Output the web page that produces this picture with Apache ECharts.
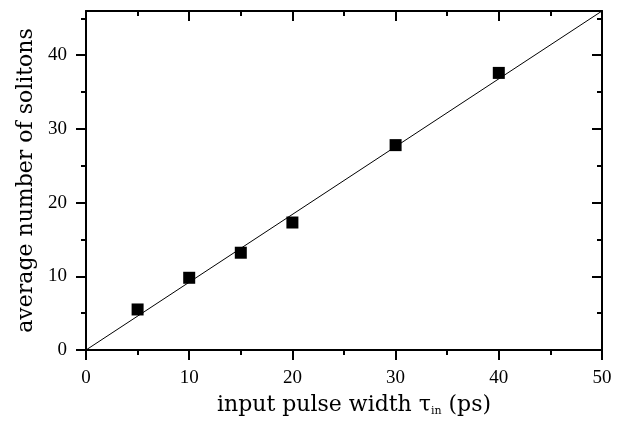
<!DOCTYPE html>
<html>
<head>
<meta charset="utf-8">
<script src="https://cdn.jsdelivr.net/npm/echarts@6/dist/echarts.min.js"></script>
<style>
  html, body { margin: 0; padding: 0; background: #ffffff; }
  #chart { width: 628px; height: 430px; }
</style>
</head>
<body>
<div id="chart"></div>
<script>
// measured points
const pulseWidth = [5, 10, 15, 20, 30, 40];
const solitons = [5.5, 9.8, 13.2, 17.3, 27.8, 37.6];
// straight-line fit through the origin
const fitX = [0, 50];
const fitY = [0, 46];
// tick positions
const xMajor = [0, 10, 20, 30, 40, 50];
const xMinor = [5, 15, 25, 35, 45];
const yMajor = [0, 10, 20, 30, 40];
const yMinor = [5, 15, 25, 35, 45];

const font = "Liberation Serif";
const titleFont = "DejaVu Serif";
const black = "#000";

// helper: one axis layer (labels/ticks per side)
function xLayer(pos, ticks, len, inside, labels, line) {
  return {
    type: "value", position: pos, min: 0, max: 50, interval: 5,
    axisLine: { show: line, onZero: false, lineStyle: { color: black, width: 2 } },
    axisTick: { show: true, inside: inside, length: len, customValues: ticks,
      lineStyle: { color: black, width: 2 } },
    axisLabel: { show: labels, customValues: xMajor, margin: 19,
      fontFamily: font, fontSize: 19, color: black },
    splitLine: { show: false },
  };
}
function yLayer(pos, ticks, len, inside, labels, line) {
  return {
    type: "value", position: pos, min: 0, max: 46, interval: 5,
    axisLine: { show: line, onZero: false, lineStyle: { color: black, width: 2 } },
    axisTick: { show: true, inside: inside, length: len, customValues: ticks,
      lineStyle: { color: black, width: 2 } },
    axisLabel: { show: labels, customValues: yMajor, margin: 19,
      fontFamily: font, fontSize: 19, color: black },
    splitLine: { show: false },
  };
}

const xAxes = [
  xLayer("bottom", xMajor, 10, false, true, true),
  xLayer("bottom", xMinor, 5, false, false, false),
  xLayer("top", xMajor, 10, true, false, true),
  xLayer("top", xMinor, 5, true, false, false),
];
xAxes[0].name = "{t|input pulse width τ}{s|in}{t| (ps)}";
xAxes[0].nameLocation = "middle";
xAxes[0].nameGap = 44;
xAxes[0].nameTextStyle = {
  padding: [0, 0, 0, 20],
  rich: {
    t: { fontFamily: titleFont, fontSize: 22, color: black },
    s: { fontFamily: titleFont, fontSize: 11, color: black, verticalAlign: "bottom", padding: [12, 0, 0, 0] },
  },
};

const yAxes = [
  yLayer("left", yMajor, 10, false, true, true),
  yLayer("left", yMinor, 5, false, false, false),
  yLayer("right", yMajor, 10, true, false, true),
  yLayer("right", yMinor, 5, true, false, false),
];
yAxes[0].name = "average number of solitons";
yAxes[0].nameLocation = "middle";
yAxes[0].nameGap = 48;
yAxes[0].nameTextStyle = { fontFamily: titleFont, fontSize: 22, color: black };

var myChart = echarts.init(document.getElementById("chart"));
myChart.setOption({
  animation: false,
  backgroundColor: "#ffffff",
  grid: { left: 86, right: 26, top: 11, bottom: 80 },
  xAxis: xAxes,
  yAxis: yAxes,
  series: [
    {
      type: "line",
      data: fitX.map((x, i) => [x, fitY[i]]),
      showSymbol: false,
      lineStyle: { color: black, width: 1 },
      silent: true,
    },
    {
      type: "scatter",
      data: pulseWidth.map((x, i) => [x, solitons[i]]),
      symbol: "rect",
      symbolSize: 12,
      itemStyle: { color: black, opacity: 1 },
    },
  ],
});
</script>
</body>
</html>
